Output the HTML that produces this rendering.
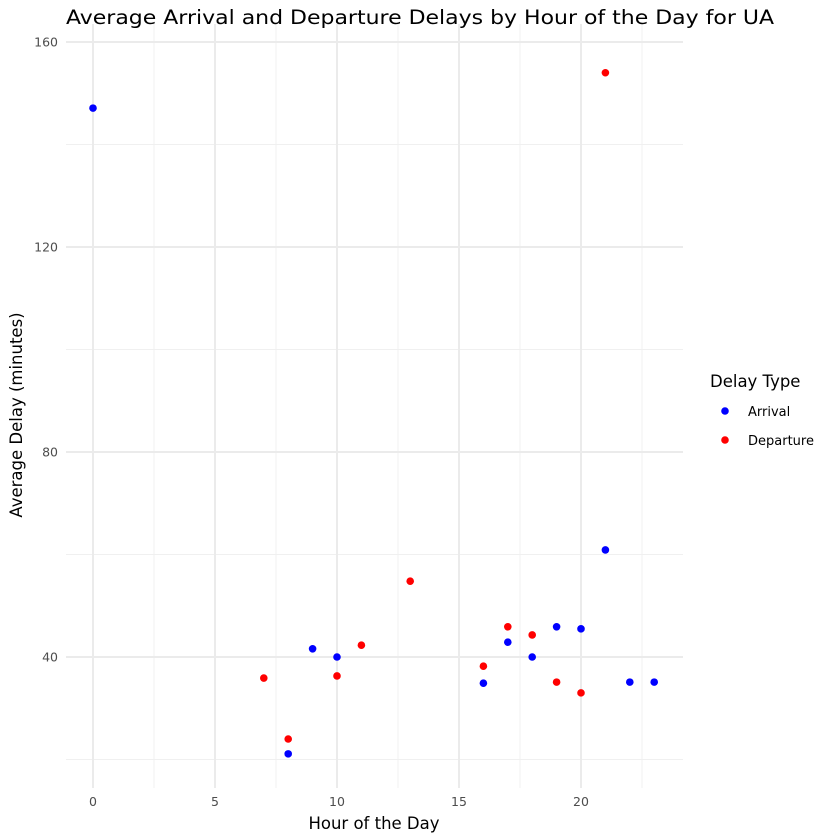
<!DOCTYPE html>
<html><head><meta charset="utf-8"><style>
html,body{margin:0;padding:0;background:#fff;}
svg{display:block;font-family:"DejaVu Sans","Liberation Sans",sans-serif;}
</style></head><body>
<svg id="chart" width="840" height="840" viewBox="0 0 840 840"></svg>
<script>
const hoursArrival=[0,8,9,10,16,17,18,19,20,21,22,23];
const arrivalDelays=[147.1,21.1,41.6,40,34.9,42.9,40,45.9,45.5,60.9,35.1,35.1];
const hoursDeparture=[7,8,10,11,13,16,17,18,19,20,21];
const departureDelays=[35.9,24,36.3,42.3,54.8,38.2,45.9,44.3,35.1,33,154];
const xTicks=[0,5,10,15,20];
const yTicks=[40,80,120,160];
const seriesNames=["Arrival","Departure"];
const seriesColors=["#0000ff","#ff0000"];

const svg=document.getElementById('chart');
const NS='http://www.w3.org/2000/svg';
const X=v=>93+v*24.4;
const Y=v=>657-(v-40)*5.125;
function el(t,a,txt){const e=document.createElementNS(NS,t);for(const k in a)e.setAttribute(k,a[k]);if(txt!==undefined)e.textContent=txt;svg.appendChild(e);return e;}
const L=66,R=683,T=24,B=788;
for(let v=2.5;X(v)<R;v+=5){const g=el('line',{x1:X(v),x2:X(v),y1:T,y2:B,stroke:'#f0f0f0','stroke-width':1});

}
for(let v=20;v<=140;v+=40){const g=el('line',{x1:L,x2:R,y1:Y(v),y2:Y(v),stroke:'#f0f0f0','stroke-width':1});

}
xTicks.forEach(v=>{const g=el('line',{x1:X(v),x2:X(v),y1:T,y2:B,stroke:'#ebebeb','stroke-width':2});


const t=el('text',{x:X(v),y:806,'text-anchor':'middle','font-size':12.5,fill:'#4d4d4d'},v);

});
yTicks.forEach(v=>{const g=el('line',{x1:L,x2:R,y1:Y(v),y2:Y(v),stroke:'#ebebeb','stroke-width':2});


const t=el('text',{x:58,y:Y(v)+4.5,'text-anchor':'end','font-size':12.5,fill:'#4d4d4d'},v);

});
function pts(xs,ys,c,name){xs.forEach((x,i)=>{const p=el('circle',{cx:X(x),cy:Y(ys[i]),r:3.8,fill:c});

});}
pts(hoursArrival,arrivalDelays,seriesColors[0],'arrival-point');
pts(hoursDeparture,departureDelays,seriesColors[1],'departure-point');
let t=el('text',{x:66,y:24,'font-size':19.5,fill:'#000',textLength:708,lengthAdjust:'spacingAndGlyphs'},'Average Arrival and Departure Delays by Hour of the Day for UA');


t=el('text',{x:374,y:829,'text-anchor':'middle','font-size':16.5,fill:'#000'},'Hour of the Day');


t=el('text',{x:0,y:0,'text-anchor':'middle','font-size':16.5,fill:'#000',transform:'translate(22,415) rotate(-90)'},'Average Delay (minutes)');


t=el('text',{x:710,y:387,'font-size':16.5,fill:'#000'},'Delay Type');


seriesNames.forEach((n,i)=>{const y=411+i*29;
const c=el('circle',{cx:725,cy:y,r:3.8,fill:seriesColors[i]});


const tx=el('text',{x:748,y:y+5,'font-size':13,fill:'#000'},n);

});
</script>
</body></html>
